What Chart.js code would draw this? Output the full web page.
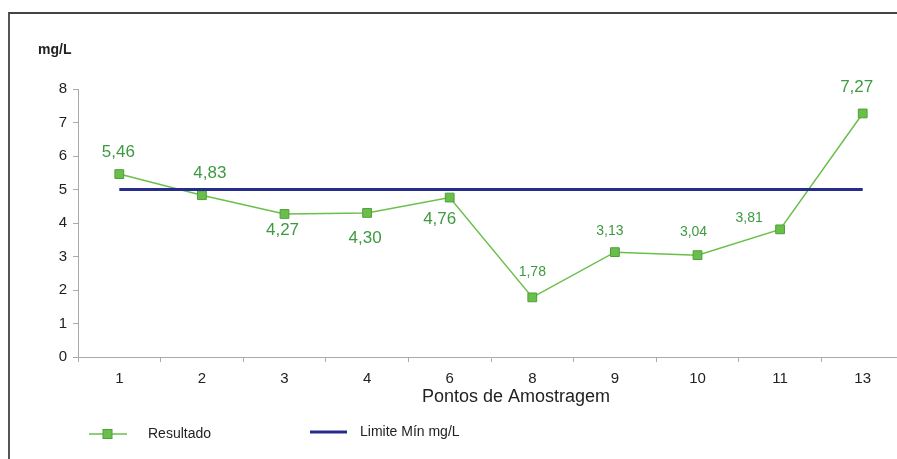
<!DOCTYPE html>
<html>
<head>
<meta charset="utf-8">
<script src="https://cdn.jsdelivr.net/npm/chart.js@4/dist/chart.umd.min.js"></script>
<style>
  html, body { margin: 0; padding: 0; background: #fff; overflow: hidden; }
  #wrap { position: relative; width: 897px; height: 459px; overflow: hidden; }
  #frame { position: absolute; left: 8px; top: 12px; width: 1000px; height: 500px;
           border-top: 2px solid #444; border-left: 2px solid #555; }
  #c { position: absolute; left: 0; top: 0; }
</style>
</head>
<body>
<div id="wrap">
  <div id="frame"></div>
  <canvas id="c" width="920" height="459"></canvas>
</div>
<script>
// dados do gráfico
const pontos = ['1', '2', '3', '4', '6', '8', '9', '10', '11', '13'];
const resultado = [5.46, 4.83, 4.27, 4.30, 4.76, 1.78, 3.13, 3.04, 3.81, 7.27];
const limiteMin = [5, 5, 5, 5, 5, 5, 5, 5, 5, 5];
const yTicks = [0, 1, 2, 3, 4, 5, 6, 7, 8];

const FONT = '"Liberation Sans", Arial, sans-serif';
const VERDE = '#6abf4b';
const VERDE_TXT = '#3d9a40';
const AZUL = '#262c8c';

// onde fica cada rótulo em relação ao ponto (dx, dy, tamanho da fonte)
const rotulos = [
  [-1, -22, 17], [8, -22, 17], [-2, 16, 17], [-2, 25, 17], [-10, 22, 17],
  [0, -25, 14], [-5, -21, 14], [-4, -23, 14], [-31, -11, 14], [-6, -26, 17]
];

const rotulosPlugin = {
  id: 'rotulos',
  afterDatasetsDraw(chart) {
    const ctx = chart.ctx;
    const meta = chart.getDatasetMeta(1);
    ctx.save();
    ctx.fillStyle = VERDE_TXT;
    ctx.textAlign = 'center';
    ctx.textBaseline = 'middle';
    meta.data.forEach((pt, i) => {
      const [dx, dy, size] = rotulos[i];
      ctx.font = size + 'px ' + FONT;
      ctx.fillText(resultado[i].toFixed(2).replace('.', ','), pt.x + dx, pt.y + dy);
    });
    ctx.restore();
  },
  afterDraw(chart) {
    const ctx = chart.ctx;
    ctx.save();
    // unidade
    ctx.fillStyle = '#222';
    ctx.font = 'bold 14px ' + FONT;
    ctx.textAlign = 'left';
    ctx.textBaseline = 'middle';
    ctx.fillText('mg/L', 38, 50);
    // titulo do eixo x
    ctx.font = '18px ' + FONT;
    ctx.textAlign = 'center';
    ctx.fillText('Pontos de Amostragem', 516, 397);
    // legenda
    ctx.strokeStyle = VERDE;
    ctx.lineWidth = 1.5;
    ctx.beginPath(); ctx.moveTo(89, 434); ctx.lineTo(127, 434); ctx.stroke();
    ctx.fillStyle = VERDE;
    ctx.fillRect(103, 429.5, 9, 9);
    ctx.strokeStyle = '#4f9f3a';
    ctx.lineWidth = 1;
    ctx.strokeRect(103, 429.5, 9, 9);
    ctx.strokeStyle = AZUL;
    ctx.lineWidth = 3;
    ctx.beginPath(); ctx.moveTo(310, 432); ctx.lineTo(347, 432); ctx.stroke();
    ctx.fillStyle = '#222';
    ctx.font = '14px ' + FONT;
    ctx.textAlign = 'left';
    ctx.fillText('Resultado', 148, 434);
    ctx.fillText('Limite Mín mg/L', 360, 432);
    ctx.restore();
  }
};

new Chart(document.getElementById('c'), {
  type: 'line',
  data: {
    labels: pontos,
    datasets: [
      {
        label: 'Limite Mín mg/L',
        data: limiteMin,
        borderColor: AZUL,
        borderWidth: 3,
        pointRadius: 0,
        fill: false
      },
      {
        label: 'Resultado',
        data: resultado,
        borderColor: VERDE,
        borderWidth: 1.5,
        pointStyle: 'rect',
        pointRadius: 6.2,
        pointBackgroundColor: VERDE,
        pointBorderColor: '#4f9f3a',
        pointBorderWidth: 1,
        fill: false,
        tension: 0
      }
    ]
  },
  options: {
    responsive: false,
    animation: false,
    layout: { padding: { top: 89, right: 16, bottom: 72, left: 0 } },
    plugins: {
      legend: { display: false },
      tooltip: { enabled: false }
    },
    scales: {
      x: {
        offset: true,
        grid: { offset: true, drawOnChartArea: false, color: '#aaa', tickLength: 5 },
        border: { color: '#aaa', width: 1 },
        ticks: { color: '#222', font: { family: FONT, size: 15 }, padding: 8, maxRotation: 0 },
        afterFit(scale) { scale.height = 30; }
      },
      y: {
        min: 0,
        max: 8,
        afterBuildTicks(scale) { scale.ticks = yTicks.map(v => ({ value: v })); },
        grid: { drawOnChartArea: false, color: '#aaa', tickLength: 5 },
        border: { color: '#aaa', width: 1 },
        ticks: { color: '#222', font: { family: FONT, size: 15 }, padding: 6 },
        afterFit(scale) { scale.width = 78; }
      }
    }
  },
  plugins: [rotulosPlugin]
});
</script>
</body>
</html>
